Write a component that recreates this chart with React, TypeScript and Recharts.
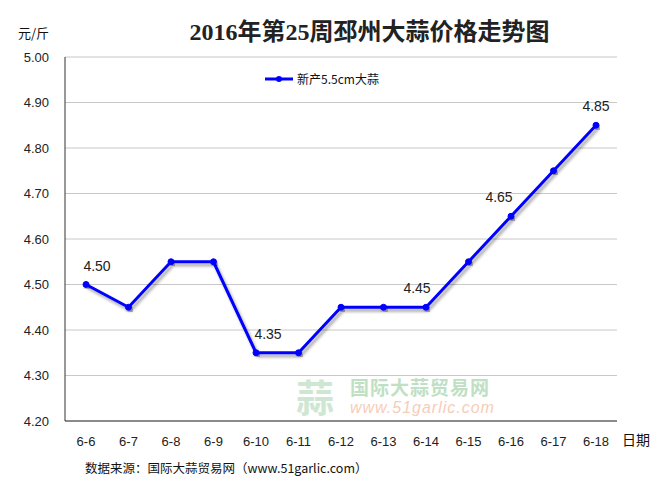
import React from 'react';
import { LineChart, Line, XAxis, YAxis, CartesianGrid, LabelList } from 'recharts';

const dates = ['6-6', '6-7', '6-8', '6-9', '6-10', '6-11', '6-12', '6-13', '6-14', '6-15', '6-16', '6-17', '6-18'];
const prices = [4.5, 4.45, 4.55, 4.55, 4.35, 4.35, 4.45, 4.45, 4.45, 4.55, 4.65, 4.75, 4.85];
const labelledDates = ['6-6', '6-10', '6-14', '6-16', '6-18'];
const yTicks = [4.2, 4.3, 4.4, 4.5, 4.6, 4.7, 4.8, 4.9, 5.0];

// horizontal nudge of the value labels, like the original layout
const labelShift: Record<string, number> = { '6-6': 11, '6-10': 12, '6-14': -9, '6-16': -12, '6-18': 0 };

const data = dates.map((d, i) => ({ name: d, value: prices[i] }));

const CJK = '"Noto Sans CJK SC", sans-serif';
const NUM = '"Liberation Sans", Arial, sans-serif';

const renderLabel = (props: any) => {
  const { x, y, value, index } = props;
  const d = dates[index];
  if (!labelledDates.includes(d)) return null;
  return (
    <text x={x + (labelShift[d] || 0)} y={y - 14} textAnchor="middle" fontSize={14} fontFamily={NUM} fill="#222">
      {Number(value).toFixed(2)}
    </text>
  );
};

const LegendBox = () => (
  <div style={{ display: 'flex', alignItems: 'center', fontFamily: CJK, fontSize: 12, color: '#111' }}>
    <svg width={28} height={10} style={{ marginRight: 4 }}>
      <line x1={0} y1={5} x2={28} y2={5} stroke="#0000ff" strokeWidth={3} />
      <circle cx={14} cy={5} r={3} fill="#0000ff" />
    </svg>
    新产5.5cm大蒜
  </div>
);

export default function App() {
  return (
    <div style={{ position: 'absolute', left: 0, top: 0, width: 669, height: 483, background: '#fff' }}>
      <div style={{ position: 'absolute', left: 0, width: 669, top: 12, textAlign: 'center', paddingLeft: 70, boxSizing: 'border-box', fontFamily: '"Liberation Serif", "Noto Sans CJK SC", serif', fontSize: 24, fontWeight: 'bold', color: '#222' }}>
        2016年第25周邳州大蒜价格走势图
      </div>
      <div style={{ position: 'absolute', left: 18, top: 23, fontFamily: CJK, fontSize: 13, color: '#111' }}>元/斤</div>
      <div style={{ position: 'absolute', left: 622, top: 429, fontFamily: CJK, fontSize: 14, color: '#111' }}>日期</div>
      <div style={{ position: 'absolute', left: 85, top: 458, fontFamily: CJK, fontSize: 12.5, color: '#111' }}>
        数据来源：国际大蒜贸易网（www.51garlic.com）
      </div>
      <div style={{ position: 'absolute', left: 265, top: 70 }}>
        <LegendBox />
      </div>
      <div style={{ position: 'absolute', left: 350, top: 376, fontFamily: CJK, fontSize: 19, lineHeight: '22px', fontWeight: 'bold', color: '#bfe0c4', letterSpacing: 1 }}>
        国际大蒜贸易网
      </div>
      <div style={{ position: 'absolute', left: 350, top: 399, fontFamily: NUM, fontSize: 16, lineHeight: '18px', fontStyle: 'italic', color: '#f6cdb8', letterSpacing: 1 }}>
        www.51garlic.com
      </div>
      <div style={{ position: 'absolute', left: 296, top: 376, fontFamily: CJK, fontSize: 38, fontWeight: 'bold', color: '#cfe7d2', lineHeight: '40px' }}>
        蒜
      </div>
      <LineChart width={669} height={483} data={data} margin={{ top: 57, right: 52, bottom: 32, left: 0 }} style={{ position: 'absolute', left: 0, top: 0 }}>
        <defs>
          <filter id="lineShadow" x="-10%" y="-10%" width="120%" height="130%">
            <feDropShadow dx={2} dy={3} stdDeviation={1.5} floodColor="#000" floodOpacity={0.35} />
          </filter>
        </defs>
        <CartesianGrid vertical={false} stroke="#c8c8c8" />
        <XAxis
          dataKey="name"
          height={30}
          padding={{ left: 21, right: 21 }}
          axisLine={{ stroke: '#333' }}
          tickLine={false}
          tick={{ fontSize: 13, fontFamily: NUM, fill: '#222' }}
          tickMargin={10}
        />
        <YAxis
          width={65}
          domain={[4.2, 5.0]}
          ticks={yTicks}
          axisLine={{ stroke: '#333' }}
          tickLine={false}
          tickFormatter={(v: number) => v.toFixed(2)}
          tick={{ fontSize: 13, fontFamily: NUM, fill: '#222' }}
          tickMargin={10}
        />
        <Line
          type="linear"
          dataKey="value"
          stroke="#0000ff"
          strokeWidth={3}
          dot={{ r: 3, fill: '#0000ff', stroke: '#0000ff', strokeWidth: 1 }}
          filter="url(#lineShadow)"
          isAnimationActive={false}
        >
          <LabelList dataKey="value" content={renderLabel} />
        </Line>
      </LineChart>
    </div>
  );
}
